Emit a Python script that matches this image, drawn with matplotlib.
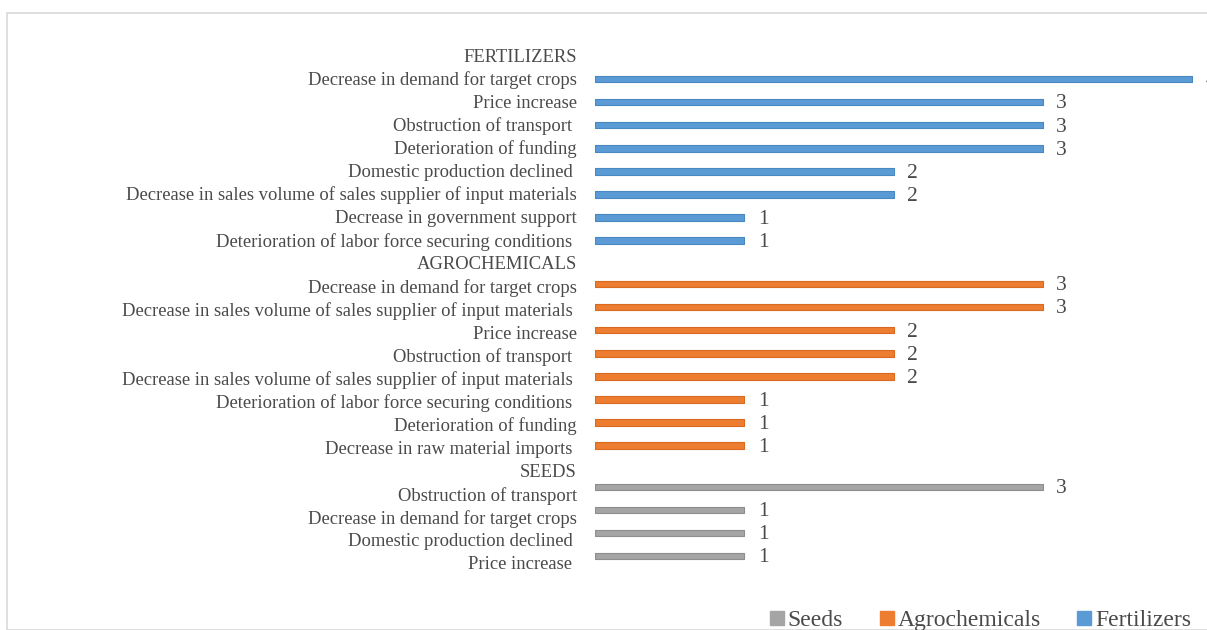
import matplotlib
matplotlib.use("Agg")
import matplotlib.pyplot as plt
from matplotlib.lines import Line2D
from matplotlib.patches import Rectangle

plt.rcParams['font.family'] = ['Liberation Serif', 'DejaVu Serif']

# data, top to bottom inside each group
fert_labels = ["Decrease in demand for target crops", "Price increase", "Obstruction of transport ",
               "Deterioration of funding", "Domestic production declined ",
               "Decrease in sales volume of sales supplier of input materials",
               "Decrease in government support", "Deterioration of labor force securing conditions "]
fert_vals = [4, 3, 3, 3, 2, 2, 1, 1]
agro_labels = ["Decrease in demand for target crops",
               "Decrease in sales volume of sales supplier of input materials ",
               "Price increase", "Obstruction of transport ",
               "Decrease in sales volume of sales supplier of input materials ",
               "Deterioration of labor force securing conditions ", "Deterioration of funding",
               "Decrease in raw material imports "]
agro_vals = [3, 3, 2, 2, 2, 1, 1, 1]
seed_labels = ["Obstruction of transport", "Decrease in demand for target crops",
               "Domestic production declined ", "Price increase "]
seed_vals = [3, 1, 1, 1]

groups = [("FERTILIZERS", fert_labels, fert_vals, '#5B9BD5', '#4A88C2', 0.04),
          ("AGROCHEMICALS", agro_labels, agro_vals, '#ED7D31', '#D96A20', -0.08),
          ("SEEDS", seed_labels, seed_vals, '#A5A5A5', '#8E8E8E', -0.3)]

txt = '#4a4a4a'
W, H = 1207, 630
fig = plt.figure(figsize=(W / 100, H / 100), dpi=100)
fig.patches.append(Rectangle((7 / W, 0), 1.2, 1 - 13 / H, transform=fig.transFigure,
                             fill=False, edgecolor='#D9D9D9', linewidth=1.2))

x0 = 595
unit = 149.3
row0, rowh = 55, 23.09
ax = fig.add_axes([x0 / W, 0, (W - x0) / W, 1])
ax.set_xlim(0, (W - x0) / unit)
ax.set_ylim((H - row0) / rowh, -row0 / rowh)

ticks, tlabels = [], []
r = 0
for head, labs, vals, col, edge, off in groups:
    ticks.append(r)
    tlabels.append(head)
    r += 1
    for lab, v in zip(labs, vals):
        ticks.append(r)
        tlabels.append(lab)
        ax.barh(r + off, v, height=0.28, color=col, edgecolor=edge, linewidth=0.8,
                joinstyle='round')
        ax.text(v + 0.09, r + off + 0.08, str(v), va='center', ha='left', fontsize=15.5,
                color=txt)
        r += 1

ax.set_yticks(ticks)
ax.set_yticklabels(tlabels, fontsize=13.4, color=txt)
ax.tick_params(axis='y', length=0, pad=13)
ax.set_xticks([])
for s in ax.spines.values():
    s.set_visible(False)
ax.patch.set_alpha(0)

handles = [Line2D([], [], marker='s', linestyle='', markersize=10, color=c)
           for c in ['#A5A5A5', '#ED7D31', '#5B9BD5']]
fig.legend(handles, ['Seeds', 'Agrochemicals', 'Fertilizers'], loc='center',
           bbox_to_anchor=(980 / W, 10 / H), ncol=3, frameon=False, fontsize=17,
           handlelength=0.7, handletextpad=0.1, columnspacing=1.5, labelcolor=txt)

fig.savefig('out.png', dpi=100)
